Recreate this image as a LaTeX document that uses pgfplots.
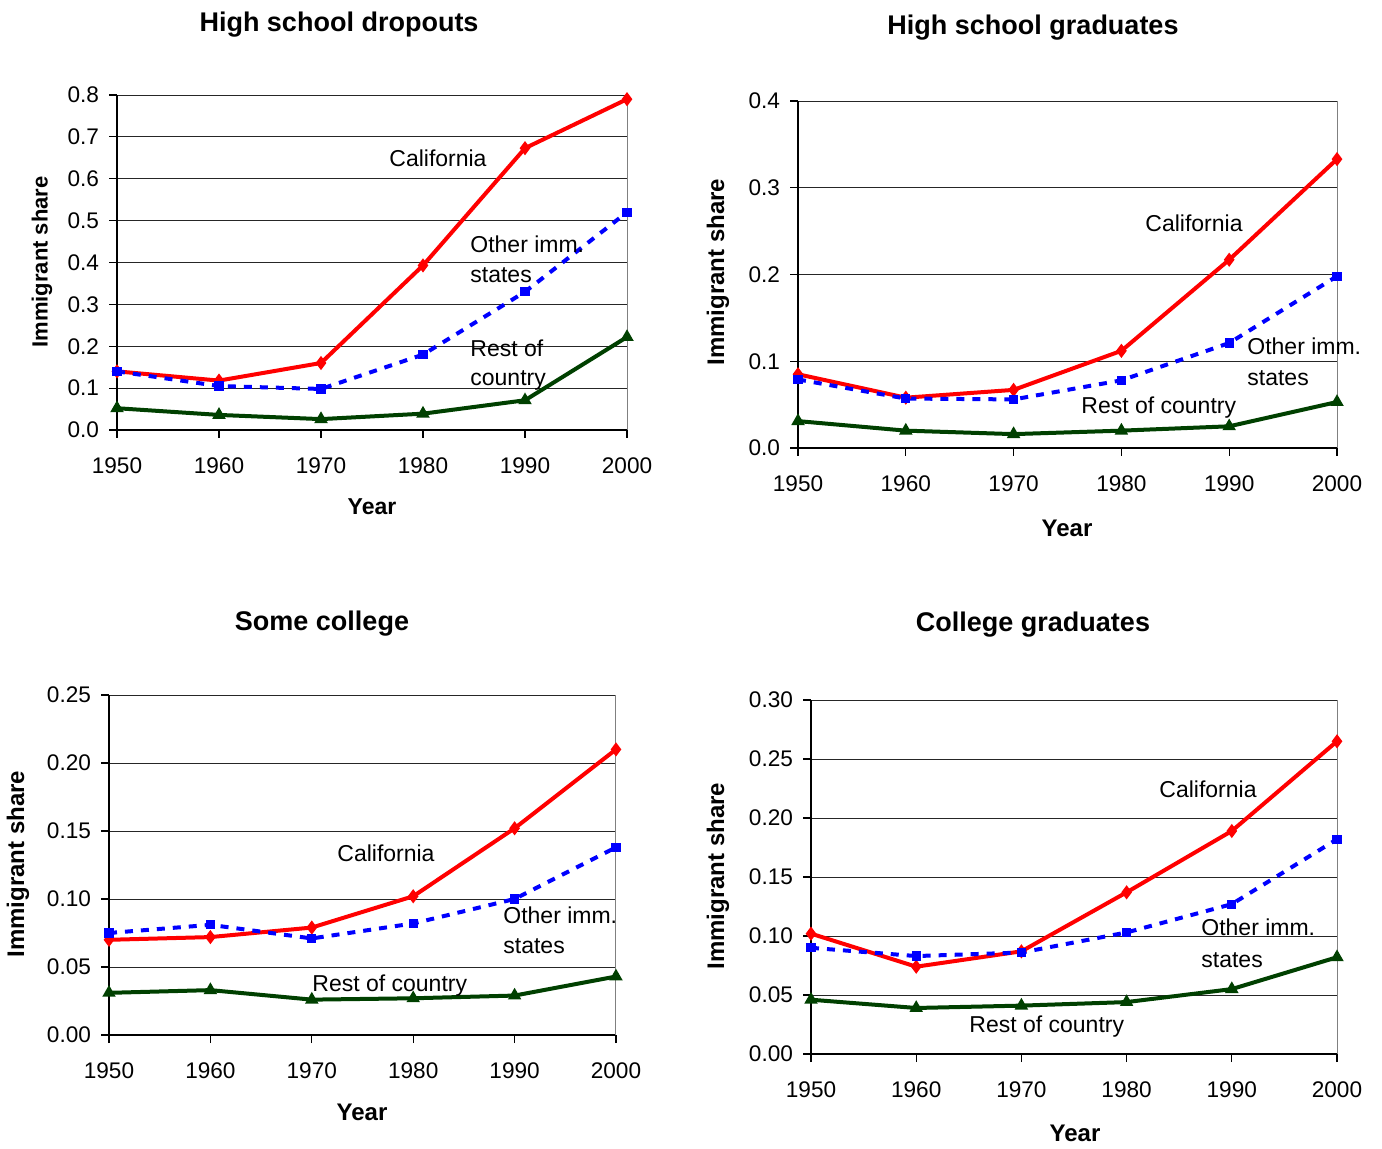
\documentclass[border=0pt]{standalone}
\usepackage{pgfplots}
\usepackage{pgfplotstable}
\pgfplotsset{compat=1.18}
\usepackage{fontspec}
\setmainfont{Liberation Sans}

\definecolor{cal}{RGB}{255,0,0}
\definecolor{oth}{RGB}{0,0,255}
\definecolor{rest}{RGB}{0,64,0}

% year, California, other immigrant states, rest of country
\pgfplotstableread{
year cal oth rest
1950 0.140 0.140 0.052
1960 0.118 0.105 0.036
1970 0.160 0.098 0.026
1980 0.393 0.180 0.039
1990 0.673 0.330 0.071
2000 0.790 0.520 0.222
}\dropouts
\pgfplotstableread{
year cal oth rest
1950 0.085 0.079 0.031
1960 0.058 0.057 0.020
1970 0.067 0.056 0.016
1980 0.112 0.078 0.020
1990 0.217 0.121 0.025
2000 0.333 0.198 0.053
}\hsgrad
\pgfplotstableread{
year cal oth rest
1950 0.070 0.075 0.031
1960 0.072 0.081 0.033
1970 0.079 0.071 0.026
1980 0.102 0.082 0.027
1990 0.152 0.100 0.029
2000 0.210 0.138 0.043
}\somecoll
\pgfplotstableread{
year cal oth rest
1950 0.102 0.090 0.046
1960 0.074 0.083 0.039
1970 0.087 0.086 0.041
1980 0.137 0.103 0.044
1990 0.189 0.127 0.055
2000 0.265 0.182 0.082
}\collgrad

\pgfplotsset{
  panel/.style={
    scale only axis, anchor=south west,
    xmin=1950, xmax=2000, xtick={1950,1960,...,2000},
    enlargelimits=false,
    axis x line*=bottom, axis y line*=left,
    axis line style={-, black, line width=0.6pt},
    tick align=outside, major tick length=4pt,
    tick style={black, line width=0.6pt},
    ymajorgrids, major grid style={black!85, line width=0.45pt},
    /pgf/number format/assume math mode=true,
    tick label style={font=\fontsize{11.3}{13}\selectfont},
    xticklabel style={/pgf/number format/1000 sep={}, yshift=-6.5pt},
    yticklabel style={/pgf/number format/fixed, /pgf/number format/fixed zerofill, xshift=-1.5pt},
    clip=false,
  },
  calline/.style={cal, line width=2pt, mark=diamond*, mark size=1.9pt},
  othline/.style={oth, line width=2pt, dash pattern=on 4pt off 4pt, mark=square*, mark size=1.3pt, mark options={solid}},
  restline/.style={rest, line width=2pt, mark=triangle*, mark size=1.9pt},
}
\tikzset{
  ttl/.style={font=\bfseries\fontsize{13.5}{16}\selectfont},
  lab/.style={font=\bfseries\fontsize{12}{14}\selectfont},
  ann/.style={font=\fontsize{11.5}{13}\selectfont, anchor=west, inner sep=0pt},
}

\begin{document}
\begin{tikzpicture}
\useasboundingbox (0,0) rectangle (691pt,574pt);

% High school dropouts
\begin{axis}[panel, at={(58.5pt,359pt)}, width=255pt, height=167.5pt,
  ymin=0, ymax=0.8, ytick={0,0.1,...,0.8},
  yticklabel style={/pgf/number format/precision=1}]
  \addplot[calline] table[x=year,y=cal] {\dropouts};
  \addplot[othline] table[x=year,y=oth] {\dropouts};
  \addplot[restline] table[x=year,y=rest] {\dropouts};
  \draw[gray, line width=0.5pt] (rel axis cs:1,0) -- (rel axis cs:1,1);
\end{axis}
\node[ttl] at (169.5pt,561.5pt) {High school dropouts};
\node[lab, rotate=90, font=\bfseries\fontsize{11}{13}\selectfont] at (21pt,443pt) {Immigrant share};
\node[lab, font=\bfseries\fontsize{11.5}{13}\selectfont] at (186pt,320.5pt) {Year};
\node[ann] at (194.5pt,495pt) {California};
\node[ann] at (235pt,452pt) {Other imm.};
\node[ann] at (235pt,436.5pt) {states};
\node[ann] at (235pt,400pt) {Rest of};
\node[ann] at (235pt,384pt) {country};

% High school graduates
\begin{axis}[panel, at={(399pt,350pt)}, width=269.5pt, height=173.5pt,
  ymin=0, ymax=0.4, ytick={0,0.1,...,0.4},
  yticklabel style={/pgf/number format/precision=1}]
  \addplot[calline] table[x=year,y=cal] {\hsgrad};
  \addplot[othline] table[x=year,y=oth] {\hsgrad};
  \addplot[restline] table[x=year,y=rest] {\hsgrad};
  \draw[gray, line width=0.5pt] (rel axis cs:1,0) -- (rel axis cs:1,1);
\end{axis}
\node[ttl] at (516.5pt,560pt) {High school graduates};
\node[lab, rotate=90] at (359pt,438pt) {Immigrant share};
\node[lab] at (533.5pt,310pt) {Year};
\node[ann] at (572.5pt,462.5pt) {California};
\node[ann] at (623.5pt,401pt) {Other imm.};
\node[ann] at (623.5pt,385pt) {states};
\node[ann] at (540.5pt,370pt) {Rest of country};

% Some college
\begin{axis}[panel, at={(54.5pt,56.5pt)}, width=253.5pt, height=170pt,
  ymin=0, ymax=0.25, ytick={0,0.05,...,0.25},
  yticklabel style={/pgf/number format/precision=2}]
  \addplot[calline] table[x=year,y=cal] {\somecoll};
  \addplot[othline] table[x=year,y=oth] {\somecoll};
  \addplot[restline] table[x=year,y=rest] {\somecoll};
  \draw[gray, line width=0.5pt] (rel axis cs:1,0) -- (rel axis cs:1,1);
\end{axis}
\node[ttl] at (161pt,262pt) {Some college};
\node[lab, rotate=90] at (9pt,142pt) {Immigrant share};
\node[lab] at (181pt,18pt) {Year};
\node[ann] at (168.5pt,147.5pt) {California};
\node[ann] at (251.5pt,116.5pt) {Other imm.};
\node[ann] at (251.5pt,101pt) {states};
\node[ann] at (156pt,81pt) {Rest of country};

% College graduates
\begin{axis}[panel, at={(405.5pt,47pt)}, width=263pt, height=177pt,
  ymin=0, ymax=0.3, ytick={0,0.05,...,0.3},
  yticklabel style={/pgf/number format/precision=2}]
  \addplot[calline] table[x=year,y=cal] {\collgrad};
  \addplot[othline] table[x=year,y=oth] {\collgrad};
  \addplot[restline] table[x=year,y=rest] {\collgrad};
  \draw[gray, line width=0.5pt] (rel axis cs:1,0) -- (rel axis cs:1,1);
\end{axis}
\node[ttl] at (516.5pt,261.5pt) {College graduates};
\node[lab, rotate=90] at (359pt,136pt) {Immigrant share};
\node[lab] at (537.5pt,7.5pt) {Year};
\node[ann] at (579.5pt,179.5pt) {California};
\node[ann] at (600.5pt,110.5pt) {Other imm.};
\node[ann] at (600.5pt,94pt) {states};
\node[ann] at (484.5pt,60.5pt) {Rest of country};
\end{tikzpicture}
\end{document}
